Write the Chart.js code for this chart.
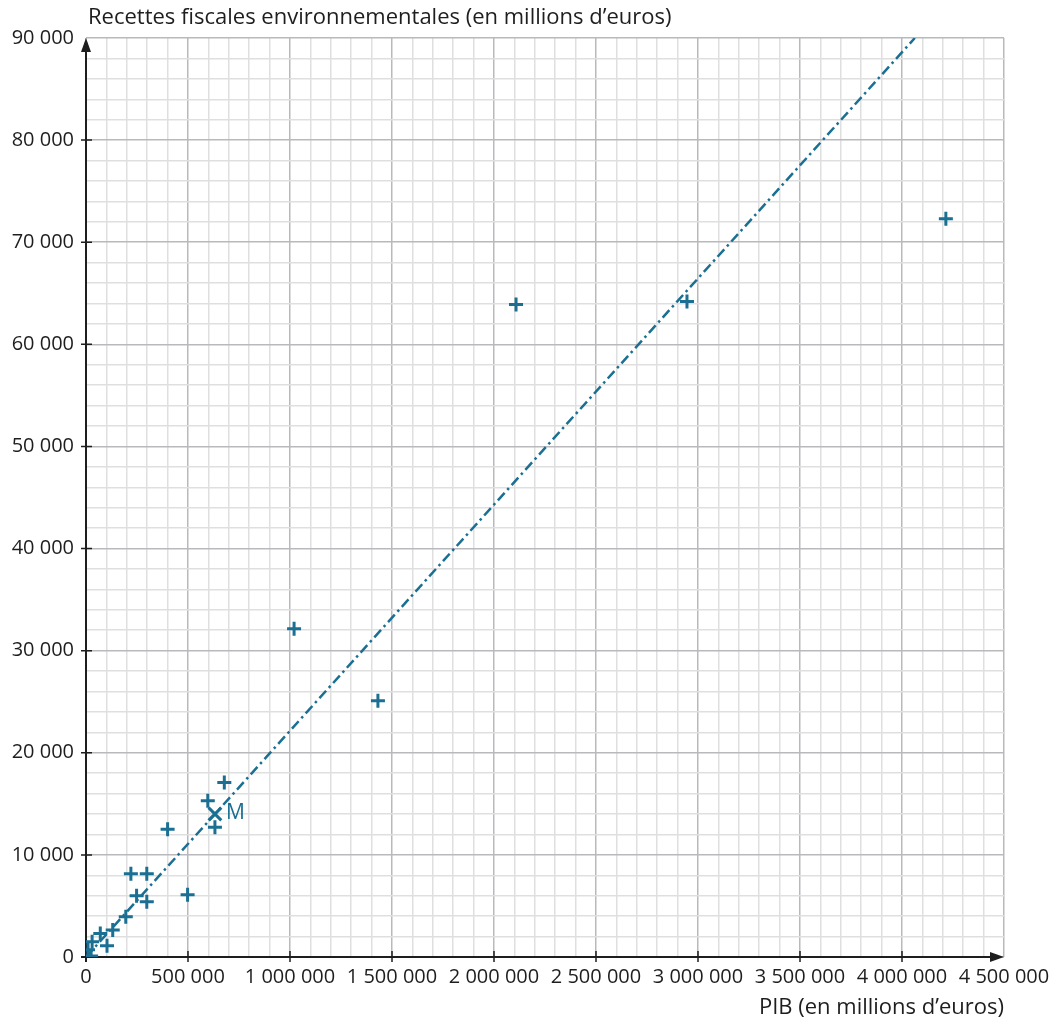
<!DOCTYPE html>
<html>
<head>
<meta charset="utf-8">
<script src="https://cdn.jsdelivr.net/npm/chart.js@4"></script>
<style>
  html, body { margin: 0; padding: 0; background: #fff; }
  #wrap { width: 1054px; height: 1021px; }
</style>
</head>
<body>
<div id="wrap"><canvas id="chart"></canvas></div>
<script>
// PIB (millions d'euros) and recettes fiscales environnementales for each country
const pibValues      = [4215000, 2108000, 2946000, 1020000, 1431000, 678000, 597000, 632000, 400000, 220000, 298000, 248000, 298000, 498000, 195000, 131000, 70000, 103000, 30000, 10000, 25000];
const recettesValues = [72300,   63900,   64200,   32150,   25100,   17100,  15300,  12700,  12500,  8150,   8150,   6000,   5400,   6100,   3950,   2650,   2300,  1100,   1500,  700,   100];

// mean point M
const pointM = { x: 632000, y: 14000 };

// regression line ends
const trendX = [0, 4063000];
const trendY = [0, 90000];

const xMax = 4500000, xMajor = 500000, xMinor = 100000;
const yMax = 90000,   yMajor = 10000,  yMinor = 2000;

const blue      = '#1a6f92';
const textColor = '#1e1e1e';
const majorGrid = '#b9b9bd';
const minorGrid = '#dfdfdf';
const fontName  = "'Open Sans', sans-serif";

const formatNumber = v => String(v).replace(/\B(?=(\d{3})+(?!\d))/g, ' ');

//-----------------------------------------------------------------------------
// axes with arrows, crossing tick marks, the "M" label and the y title
//-----------------------------------------------------------------------------
const axesPlugin = {
    id: 'axes',
    beforeDatasetsDraw(chart) {
        const { ctx, chartArea: a, scales: { x, y } } = chart;
        const x0 = x.getPixelForValue(0);
        const y0 = y.getPixelForValue(0);
        ctx.save();
        ctx.strokeStyle = textColor;
        ctx.fillStyle = textColor;
        ctx.lineWidth = 2;

        // y axis
        ctx.beginPath();
        ctx.moveTo(x0, y0 + 5);
        ctx.lineTo(x0, a.top + 4);
        ctx.stroke();
        ctx.beginPath();
        ctx.moveTo(x0, a.top);
        ctx.lineTo(x0 - 5, a.top + 14);
        ctx.lineTo(x0 + 5, a.top + 14);
        ctx.closePath();
        ctx.fill();

        // x axis
        ctx.beginPath();
        ctx.moveTo(x0 - 5, y0);
        ctx.lineTo(a.right - 4, y0);
        ctx.stroke();
        ctx.beginPath();
        ctx.moveTo(a.right, y0);
        ctx.lineTo(a.right - 14, y0 - 5);
        ctx.lineTo(a.right - 14, y0 + 5);
        ctx.closePath();
        ctx.fill();

        // crossing ticks
        ctx.lineWidth = 1.5;
        ctx.beginPath();
        for (let v = xMajor; v < xMax; v += xMajor) {
            const px = x.getPixelForValue(v);
            ctx.moveTo(px, y0 - 6);
            ctx.lineTo(px, y0 + 5);
        }
        for (let v = yMajor; v < yMax; v += yMajor) {
            const py = y.getPixelForValue(v);
            ctx.moveTo(x0 - 5, py);
            ctx.lineTo(x0 + 6, py);
        }
        ctx.stroke();
        ctx.restore();
    },
    afterDraw(chart) {
        const { ctx, scales: { x, y } } = chart;
        ctx.save();
        ctx.font = `22px ${fontName}`;
        ctx.textBaseline = 'middle';
        ctx.textAlign = 'left';
        ctx.fillStyle = textColor;
        ctx.fillText('Recettes fiscales environnementales (en millions d\u2019euros)', 88, 18);

        ctx.font = `21px ${fontName}`;
        ctx.fillStyle = blue;
        ctx.fillText('M', x.getPixelForValue(pointM.x) + 11, y.getPixelForValue(pointM.y) - 1);
        ctx.restore();
    }
};

const ctx = document.getElementById('chart').getContext('2d');
new Chart(ctx, {
    type: 'scatter',
    data: {
        datasets: [
            {
                label: 'pays',
                data: pibValues.map((v, i) => ({ x: v, y: recettesValues[i] })),
                pointStyle: 'cross',
                pointRadius: 7,
                pointBorderWidth: 3,
                borderColor: blue,
                backgroundColor: blue,
                order: 1
            },
            {
                label: 'M',
                data: [pointM],
                pointStyle: 'crossRot',
                pointRadius: 9,
                pointBorderWidth: 3,
                borderColor: blue,
                backgroundColor: blue,
                order: 1
            },
            {
                // dash-dot adjustment line
                type: 'line',
                label: 'droite',
                data: trendX.map((v, i) => ({ x: v, y: trendY[i] })),
                borderColor: blue,
                borderWidth: 2.5,
                borderDash: [10, 4, 2.5, 4],
                pointRadius: 0,
                fill: false,
                order: 2
            }
        ]
    },
    options: {
        responsive: true,
        maintainAspectRatio: false,
        animation: false,
        events: [],
        layout: {
            padding: { left: 0, right: 50, top: 38, bottom: 0 }
        },
        plugins: {
            legend: { display: false },
            tooltip: { enabled: false }
        },
        scales: {
            x: {
                type: 'linear',
                min: 0,
                max: xMax,
                // fixed box so the plot area lands where the reference has it
                afterFit: s => { s.height = 64; s.paddingLeft = 0; s.paddingRight = 0; },
                border: { display: false },
                grid: {
                    drawTicks: false,
                    lineWidth: 1.5,
                    color: c => (c.tick.value % xMajor === 0 ? majorGrid : minorGrid)
                },
                ticks: {
                    stepSize: xMinor,
                    autoSkip: false,
                    maxRotation: 0,
                    padding: 8,
                    color: textColor,
                    font: { family: fontName, size: 20 },
                    callback: v => (v % xMajor === 0 ? formatNumber(v) : '')
                },
                title: {
                    display: true,
                    text: 'PIB (en millions d\u2019euros)',
                    align: 'end',
                    color: textColor,
                    font: { family: fontName, size: 22 },
                    padding: { top: 0, bottom: 0 }
                }
            },
            y: {
                type: 'linear',
                min: 0,
                max: yMax,
                afterFit: s => { s.width = 86; s.paddingTop = 0; s.paddingBottom = 0; },
                border: { display: false },
                grid: {
                    drawTicks: false,
                    lineWidth: 1.5,
                    color: c => (c.tick.value % yMajor === 0 ? majorGrid : minorGrid)
                },
                ticks: {
                    stepSize: yMinor,
                    autoSkip: false,
                    padding: 12,
                    color: textColor,
                    font: { family: fontName, size: 20 },
                    callback: v => (v % yMajor === 0 ? formatNumber(v) : '')
                }
            }
        }
    },
    plugins: [axesPlugin]
});
</script>
</body>
</html>
